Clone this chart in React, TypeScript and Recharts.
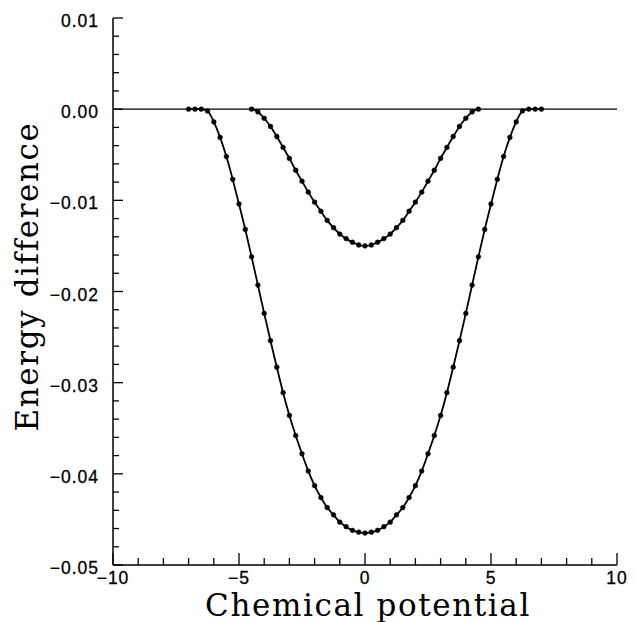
import { LineChart, Line, XAxis, YAxis, ReferenceLine, Label } from "recharts";

// chemical potential grid of the wide (outer) curve
const outerX = [
  -7, -6.75, -6.5, -6.25, -6, -5.75, -5.5, -5.25, -5, -4.75, -4.5, -4.25, -4, -3.75,
  -3.5, -3.25, -3, -2.75, -2.5, -2.25, -2, -1.75, -1.5, -1.25, -1, -0.75, -0.5, -0.25,
  0, 0.25, 0.5, 0.75, 1, 1.25, 1.5, 1.75, 2, 2.25, 2.5, 2.75, 3, 3.25, 3.5, 3.75, 4,
  4.25, 4.5, 4.75, 5, 5.25, 5.5, 5.75, 6, 6.25, 6.5, 6.75, 7,
];
const outerE = [
  0, 0, 0, -0.0002, -0.0014, -0.0031, -0.0052, -0.0077, -0.0104, -0.0132, -0.0162,
  -0.0193, -0.0224, -0.0254, -0.0283, -0.0311, -0.0336, -0.0358, -0.0378, -0.0397,
  -0.0413, -0.0426, -0.0437, -0.0445, -0.0453, -0.0458, -0.0462, -0.0464, -0.0465,
  -0.0464, -0.0462, -0.0458, -0.0453, -0.0445, -0.0437, -0.0426, -0.0413, -0.0397,
  -0.0378, -0.0358, -0.0336, -0.0311, -0.0283, -0.0254, -0.0224, -0.0193, -0.0162,
  -0.0132, -0.0104, -0.0077, -0.0052, -0.0031, -0.0014, -0.0002, 0, 0, 0,
];

// narrow (inner) curve
const innerX = [
  -4.5, -4.25, -4, -3.75, -3.5, -3.25, -3, -2.75, -2.5, -2.25, -2, -1.75, -1.5, -1.25,
  -1, -0.75, -0.5, -0.25, 0, 0.25, 0.5, 0.75, 1, 1.25, 1.5, 1.75, 2, 2.25, 2.5, 2.75,
  3, 3.25, 3.5, 3.75, 4, 4.25, 4.5,
];
const innerE = [
  0, -0.0003, -0.001, -0.0019, -0.003, -0.0042, -0.0054, -0.0067, -0.0079, -0.0091,
  -0.0102, -0.0112, -0.0122, -0.013, -0.0137, -0.0142, -0.0146, -0.0149, -0.015,
  -0.0149, -0.0146, -0.0142, -0.0137, -0.013, -0.0122, -0.0112, -0.0102, -0.0091,
  -0.0079, -0.0067, -0.0054, -0.0042, -0.003, -0.0019, -0.001, -0.0003, 0,
];

const xMajor = [-10, -5, 0, 5, 10];
const xLabels = ["\u221210", "\u22125", "0", "5", "10"];
const xTicks = [
  -10, -9, -8, -7, -6, -5, -4, -3, -2, -1, 0, 1, 2, 3, 4, 5, 6, 7, 8, 9, 10,
];

const yMajor = [0.01, 0, -0.01, -0.02, -0.03, -0.04, -0.05];
const yLabels = ["0.01", "0.00", "\u22120.01", "\u22120.02", "\u22120.03", "\u22120.04", "\u22120.05"];
const yMinor = [
  0.008, 0.006, 0.004, 0.002, -0.002, -0.004, -0.006, -0.008, -0.012, -0.014, -0.016,
  -0.018, -0.022, -0.024, -0.026, -0.028, -0.032, -0.034, -0.036, -0.038, -0.042,
  -0.044, -0.046, -0.048,
];

const rows = outerX.map((x, i) => {
  const j = innerX.indexOf(x);
  return { x, outer: outerE[i], inner: j >= 0 ? innerE[j] : undefined };
});

const tickFont = {
  fontFamily: "'Liberation Sans', Arial, sans-serif",
  fontSize: 17.5,
  letterSpacing: 1,
  fill: "#000",
  stroke: "#000",
  strokeWidth: 0.3,
};
const titleFont = {
  fontFamily: "'DejaVu Serif', serif",
  fontSize: 31,
  letterSpacing: 1.6,
  fill: "#000",
};

const findIdx = (list: number[], v: number) => list.findIndex((m) => Math.abs(m - v) < 1e-9);

const YTick = (props: any) => {
  const { x, y, payload } = props;
  const k = findIdx(yMajor, payload.value);
  return (
    <g>
      <line x1={x} x2={x + (k >= 0 ? 10 : 6)} y1={y} y2={y} stroke="#000" strokeWidth={1.3} />
      {k >= 0 && (
        <text x={x - 14} y={y + 3} textAnchor="end" dominantBaseline="central" {...tickFont}>
          {yLabels[k]}
        </text>
      )}
    </g>
  );
};

const XTick = (props: any) => {
  const { x, y, payload } = props;
  const k = findIdx(xMajor, payload.value);
  return (
    <g>
      <line x1={x} x2={x} y1={y} y2={y - (k >= 0 ? 12 : 7)} stroke="#000" strokeWidth={1.3} />
      {k >= 0 && (
        <text x={x} y={y + 13} textAnchor="middle" dominantBaseline="central" {...tickFont}>
          {xLabels[k]}
        </text>
      )}
    </g>
  );
};

const XTitle = (props: any) => {
  const { x, y, width } = props.viewBox;
  return (
    <text x={x + width / 2 + 3} y={y + 51} textAnchor="middle" {...titleFont}>
      Chemical potential
    </text>
  );
};

const YTitle = (props: any) => {
  const { y, height } = props.viewBox;
  const bx = 30;
  const cy = y + height / 2 - 15;
  return (
    <text x={bx} y={cy} textAnchor="middle" transform={`rotate(-90, ${bx}, ${cy})`} {...titleFont}>
      Energy difference
    </text>
  );
};

export default function App() {
  return (
    <div style={{ width: 628, height: 614, background: "#fff" }}>
      <LineChart
        width={628}
        height={614}
        data={rows}
        margin={{ top: 10, right: 19, bottom: 7, left: 25 }}
      >
        <XAxis
          dataKey="x"
          type="number"
          domain={[-10, 10]}
          ticks={xTicks}
          interval={0}
          height={50}
          tickSize={0}
          tickMargin={0}
          tickLine={false}
          tick={<XTick />}
          axisLine={{ stroke: "#000", strokeWidth: 1.5 }}
          allowDataOverflow
        >
          <Label content={<XTitle />} />
        </XAxis>
        <YAxis
          type="number"
          domain={[-0.05, 0.01]}
          ticks={[...yMajor, ...yMinor]}
          interval={0}
          width={80}
          tickSize={0}
          tickMargin={0}
          tickLine={false}
          tick={<YTick />}
          axisLine={{ stroke: "#000", strokeWidth: 1.5 }}
          allowDataOverflow
        >
          <Label content={<YTitle />} />
        </YAxis>
        <ReferenceLine y={0} stroke="#000" strokeWidth={1.4} />
        <Line
          dataKey="outer"
          type="monotone"
          stroke="#000"
          strokeWidth={1.8}
          dot={{ r: 2.4, fill: "#000", stroke: "#000", strokeWidth: 0.5 }}
          isAnimationActive={false}
        />
        <Line
          dataKey="inner"
          type="monotone"
          stroke="#000"
          strokeWidth={1.8}
          dot={{ r: 2.4, fill: "#000", stroke: "#000", strokeWidth: 0.5 }}
          isAnimationActive={false}
        />
      </LineChart>
    </div>
  );
}
